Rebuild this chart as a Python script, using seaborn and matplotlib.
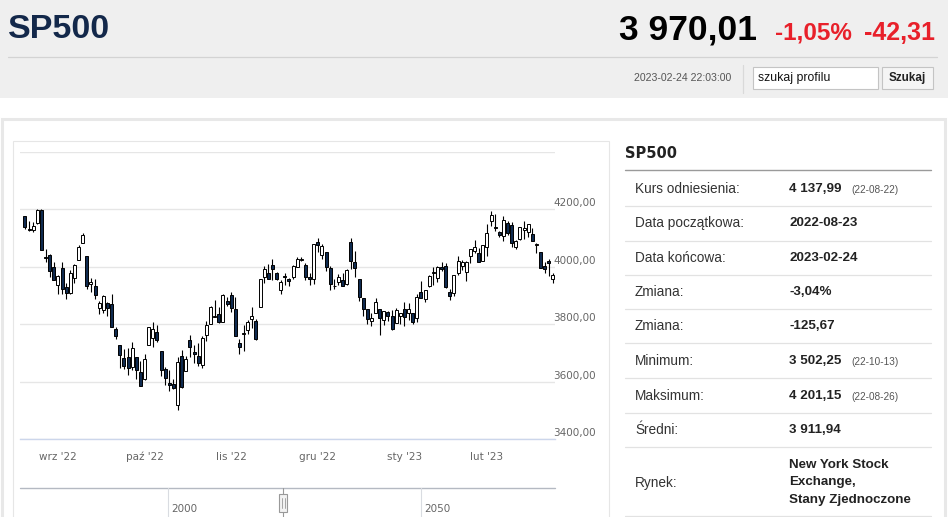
import matplotlib
matplotlib.use("Agg")
import matplotlib.pyplot as plt
import matplotlib.transforms as mtransforms
from matplotlib.patches import Rectangle
from matplotlib.lines import Line2D
import seaborn as sns
import numpy as np
import pandas as pd

# ---------------- data ----------------
dates = [
    "2022-08-22", "2022-08-23", "2022-08-24", "2022-08-25", "2022-08-26", "2022-08-29", "2022-08-30", "2022-08-31",
    "2022-09-01", "2022-09-02", "2022-09-06", "2022-09-07", "2022-09-08", "2022-09-09", "2022-09-12", "2022-09-13",
    "2022-09-14", "2022-09-15", "2022-09-16", "2022-09-19", "2022-09-20", "2022-09-21", "2022-09-22", "2022-09-23",
    "2022-09-26", "2022-09-27", "2022-09-28", "2022-09-29", "2022-09-30",
    "2022-10-03", "2022-10-04", "2022-10-05", "2022-10-06", "2022-10-07", "2022-10-10", "2022-10-11", "2022-10-12",
    "2022-10-13", "2022-10-14", "2022-10-17", "2022-10-18", "2022-10-19", "2022-10-20", "2022-10-21", "2022-10-24",
    "2022-10-25", "2022-10-26", "2022-10-27", "2022-10-28", "2022-10-31",
    "2022-11-01", "2022-11-02", "2022-11-03", "2022-11-04", "2022-11-07", "2022-11-08", "2022-11-09", "2022-11-10",
    "2022-11-11", "2022-11-14", "2022-11-15", "2022-11-16", "2022-11-17", "2022-11-18", "2022-11-21", "2022-11-22",
    "2022-11-23", "2022-11-25", "2022-11-28", "2022-11-29", "2022-11-30",
    "2022-12-01", "2022-12-02", "2022-12-05", "2022-12-06", "2022-12-07", "2022-12-08", "2022-12-09", "2022-12-12",
    "2022-12-13", "2022-12-14", "2022-12-15", "2022-12-16", "2022-12-19", "2022-12-20", "2022-12-21", "2022-12-22",
    "2022-12-23", "2022-12-27", "2022-12-28", "2022-12-29", "2022-12-30",
    "2023-01-03", "2023-01-04", "2023-01-05", "2023-01-06", "2023-01-09", "2023-01-10", "2023-01-11", "2023-01-12",
    "2023-01-13", "2023-01-17", "2023-01-18", "2023-01-19", "2023-01-20", "2023-01-23", "2023-01-24", "2023-01-25",
    "2023-01-26", "2023-01-27", "2023-01-30", "2023-01-31",
    "2023-02-01", "2023-02-02", "2023-02-03", "2023-02-06", "2023-02-07", "2023-02-08", "2023-02-09", "2023-02-10",
    "2023-02-13", "2023-02-14", "2023-02-15", "2023-02-16", "2023-02-17", "2023-02-21", "2023-02-22", "2023-02-23",
    "2023-02-24",
]

opens = [
    4176.0, 4133.1, 4126.6, 4153.3, 4198.7, 4034.6, 4041.3, 4000.7,
    3936.7, 3994.7, 3930.9, 3909.4, 3959.9, 4022.9, 4083.7, 4037.1,
    3940.7, 3932.4, 3856.0, 3849.9, 3875.2, 3871.4, 3782.4, 3727.1,
    3682.7, 3686.4, 3651.9, 3687.0, 3633.5,
    3609.8, 3726.5, 3753.3, 3772.0, 3706.7, 3644.8, 3595.9, 3590.8,
    3520.4, 3690.4, 3638.7, 3746.3, 3703.1, 3689.1, 3657.1, 3762.0,
    3799.4, 3826.0, 3834.7, 3808.3, 3881.9,
    3901.8, 3852.9, 3733.3, 3767.0, 3780.7, 3817.0, 3810.9, 3859.9,
    3963.7, 3978.0, 4006.4, 3976.8, 3919.3, 3966.4, 3956.2, 3965.5,
    4000.3, 4023.3, 4005.4, 3964.2, 3957.2,
    4087.1, 4040.2, 4052.0, 3996.6, 3933.3, 3947.8, 3954.2, 3939.3,
    4085.0, 4015.5, 3958.4, 3890.9, 3853.8, 3810.5, 3839.5, 3853.3,
    3815.1, 3843.3, 3829.6, 3805.5, 3829.1,
    3853.3, 3840.4, 3839.7, 3823.4, 3910.8, 3888.6, 3932.4, 3977.6,
    3960.6, 3999.3, 4002.3, 3911.8, 3909.0, 3978.1, 4001.7, 3982.7,
    4036.1, 4053.7, 4049.3, 4020.9,
    4070.1, 4158.7, 4136.7, 4119.6, 4105.4, 4153.5, 4144.3, 4068.9,
    4096.6, 4126.7, 4119.5, 4114.8, 4077.4, 4052.4, 4001.8, 4018.6,
    3957.3,
]

highs = [
    4178.0, 4159.8, 4156.6, 4200.5, 4201.2, 4063.0, 4045.0, 4015.4,
    3970.2, 4018.4, 3942.6, 3987.9, 4010.5, 4076.8, 4119.3, 4037.1,
    3961.9, 3959.1, 3881.0, 3900.5, 3876.0, 3907.1, 3790.7, 3727.1,
    3715.7, 3717.5, 3736.7, 3687.0, 3671.4,
    3698.4, 3791.9, 3806.9, 3797.9, 3706.7, 3652.2, 3640.7, 3608.3,
    3685.4, 3712.0, 3689.7, 3762.8, 3728.6, 3736.0, 3757.9, 3810.7,
    3862.9, 3886.2, 3860.0, 3905.4, 3893.7,
    3911.8, 3894.4, 3750.6, 3796.3, 3814.0, 3859.4, 3818.2, 3958.3,
    4001.5, 4009.0, 4028.8, 3983.1, 3954.3, 3979.9, 3962.0, 4005.9,
    4033.8, 4034.0, 4012.3, 3976.8, 4080.1,
    4100.5, 4080.5, 4052.5, 4001.5, 3957.6, 3974.2, 3977.0, 3990.7,
    4101.0, 4053.8, 3958.4, 3890.9, 3854.9, 3838.2, 3889.8, 3853.3,
    3845.8, 3846.7, 3848.3, 3858.2, 3839.9,
    3878.5, 3873.2, 3839.7, 3906.2, 3950.6, 3919.8, 3970.1, 3997.8,
    4004.0, 4015.4, 4014.2, 3922.9, 3973.0, 4039.3, 4023.9, 4019.6,
    4061.6, 4094.2, 4063.9, 4077.2,
    4149.0, 4195.4, 4182.4, 4124.6, 4176.5, 4160.8, 4156.2, 4094.4,
    4138.9, 4159.8, 4148.1, 4136.5, 4081.5, 4052.4, 4017.4, 4028.3,
    3978.3,
]

lows = [
    4129.9, 4124.0, 4120.0, 4147.6, 4057.7, 4017.4, 3965.2, 3954.5,
    3903.7, 3906.2, 3886.8, 3906.0, 3944.8, 4022.9, 4083.7, 3921.5,
    3912.4, 3888.3, 3837.1, 3838.5, 3827.5, 3789.5, 3749.5, 3647.5,
    3644.8, 3623.3, 3640.6, 3610.4, 3584.1,
    3604.9, 3726.5, 3722.7, 3739.2, 3620.7, 3588.1, 3568.5, 3573.9,
    3502.3, 3579.7, 3638.7, 3686.5, 3666.5, 3656.4, 3647.4, 3741.7,
    3799.4, 3824.1, 3803.8, 3808.3, 3863.2,
    3843.8, 3758.7, 3698.2, 3708.8, 3764.7, 3786.3, 3744.2, 3859.9,
    3944.8, 3956.4, 3953.2, 3954.3, 3906.5, 3936.0, 3933.3, 3956.9,
    3998.7, 4020.8, 3955.8, 3937.7, 3938.6,
    4050.9, 4026.6, 3984.5, 3918.4, 3922.7, 3935.8, 3933.0, 3935.3,
    3993.0, 3965.7, 3879.5, 3827.9, 3800.0, 3795.6, 3839.5, 3764.5,
    3797.0, 3813.2, 3780.8, 3805.5, 3800.3,
    3794.3, 3815.8, 3802.4, 3809.6, 3890.4, 3877.3, 3928.5, 3937.6,
    3947.7, 3984.6, 3926.6, 3885.5, 3897.9, 3971.6, 3989.8, 3949.1,
    4013.3, 4048.7, 4015.6, 4020.4,
    4037.2, 4141.9, 4123.4, 4104.0, 4088.4, 4111.8, 4069.7, 4060.8,
    4092.7, 4095.0, 4104.0, 4089.9, 4048.0, 3995.2, 3976.9, 3969.2,
    3943.1,
]

closes = [
    4138.0, 4128.7, 4140.8, 4199.1, 4057.7, 4030.6, 3986.2, 3955.0,
    3966.9, 3924.3, 3908.2, 3979.9, 4006.2, 4067.4, 4110.4, 3932.7,
    3946.0, 3901.4, 3873.3, 3899.9, 3855.9, 3789.9, 3758.0, 3693.2,
    3655.0, 3647.3, 3719.0, 3640.5, 3585.6,
    3678.4, 3790.9, 3783.3, 3744.5, 3639.7, 3612.4, 3588.8, 3577.0,
    3669.9, 3583.1, 3678.0, 3720.0, 3695.2, 3665.8, 3752.8, 3797.3,
    3859.1, 3830.6, 3807.3, 3901.1, 3872.0,
    3856.1, 3759.7, 3719.9, 3770.6, 3806.8, 3828.1, 3748.6, 3956.4,
    3992.9, 3957.3, 3991.7, 3958.8, 3946.6, 3965.3, 3949.9, 4003.6,
    4027.3, 4026.1, 3963.9, 3957.6, 4080.1,
    4076.6, 4071.7, 3998.8, 3941.3, 3933.9, 3963.5, 3934.4, 3990.6,
    4019.7, 3995.3, 3895.8, 3852.4, 3817.7, 3821.6, 3878.4, 3822.4,
    3844.8, 3829.3, 3783.2, 3849.3, 3839.5,
    3824.1, 3853.0, 3808.1, 3895.1, 3892.1, 3919.3, 3969.6, 3983.2,
    3999.1, 3991.0, 3928.9, 3898.9, 3972.6, 4019.8, 4017.0, 4016.2,
    4060.4, 4070.6, 4017.8, 4076.6,
    4119.2, 4179.8, 4136.5, 4111.1, 4164.0, 4117.9, 4081.5, 4090.5,
    4137.3, 4136.1, 4147.6, 4090.4, 4079.1, 3997.3, 3991.1, 4012.3,
    3970.0,
]

month_tick_dates = ["2022-09-01", "2022-10-03", "2022-11-01", "2022-12-01", "2023-01-03", "2023-02-01"]
month_tick_labels = ["wrz '22", "paź '22", "lis '22", "gru '22", "sty '23", "lut '23"]
grid_levels = [3400, 3600, 3800, 4000, 4200, 4400]
price_labels = ["3400,00", "3600,00", "3800,00", "4000,00", "4200,00"]
nav_labels = ["2000", "2050"]

title = "SP500"
last_price = "3 970,01"
change_pct = "-1,05%"
change_abs = "-42,31"
timestamp = "2023-02-24 22:03:00"
search_hint = "szukaj profilu"
search_button = "Szukaj"

table_labels = ["Kurs odniesienia:", "Data początkowa:", "Data końcowa:", "Zmiana:", "Zmiana:",
                "Minimum:", "Maksimum:", "Średni:", "Rynek:"]
table_values = ["4 137,99", "2022-08-23", "2023-02-24", "-3,04%", "-125,67",
                "3 502,25", "4 201,15", "3 911,94", ["New York Stock", "Exchange,", "Stany Zjednoczone"]]
table_notes = ["(22-08-22)", "", "", "", "", "(22-10-13)", "(22-08-26)", "", ""]

# ---------------- layout ----------------
W, H = 948, 517
def fx(x):
    return x / W
def fy(y):
    return 1 - y / H

sns.set_theme(style="white")
plt.rcParams["font.family"] = ["DejaVu Sans"]
HEAD = ["Liberation Sans", "DejaVu Sans"]
ARIAL = ["Liberation Sans", "DejaVu Sans"]

fig = plt.figure(figsize=(W / 100, H / 100), dpi=100)
fig.patch.set_facecolor("white")

def frect(x0, y0, x1, y1, **kw):
    r = Rectangle((fx(x0), fy(y1)), fx(x1) - fx(x0), fy(y0) - fy(y1), transform=fig.transFigure, **kw)
    fig.add_artist(r)
    return r

def fline(xs, ys, **kw):
    fig.add_artist(Line2D([fx(v) for v in xs], [fy(v) for v in ys], transform=fig.transFigure, **kw))

# header band
frect(0, 0, W, 98, fc="#efefef", ec="none", zorder=-5)
fline([8, 937], [57, 57], color="#d3d3d3", lw=0.9, zorder=-4)
fline([743, 743], [65, 93], color="#d9d9d9", lw=0.9, zorder=-4)
frect(753, 67, 878, 89, fc="white", ec="#c4c4c4", lw=0.8, zorder=-4)
frect(882, 67, 933, 89, fc="#f5f5f5", ec="#c4c4c4", lw=0.8, zorder=-4)

fig.text(fx(8), fy(29), title, family=HEAD, weight="bold", fontsize=24.5, color="#13284a", va="center", ha="left")
fig.text(fx(757), fy(30), last_price, family=HEAD, weight="bold", fontsize=25.5, color="#000000", va="center", ha="right")
fig.text(fx(775), fy(33), change_pct, family=HEAD, weight="bold", fontsize=17.5, color="#e8202a", va="center", ha="left")
fig.text(fx(935), fy(33), change_abs, family=HEAD, weight="bold", fontsize=18, color="#e8202a", va="center", ha="right")
fig.text(fx(731), fy(78), timestamp, family=HEAD, fontsize=7.6, color="#555555", va="center", ha="right")
fig.text(fx(758), fy(78), search_hint, family=HEAD, fontsize=8.8, color="#111111", va="center", ha="left")
fig.text(fx(907.5), fy(78), search_button, family=HEAD, weight="bold", fontsize=8.4, color="#222222", va="center", ha="center")

# outer panel + chart box
frect(1.5, 118.5, 944.5, 540, fc="white", ec="#e8e8e8", lw=2.2, zorder=-3)
frect(13, 141, 609, 540, fc="none", ec="#e6e6e6", lw=0.8, zorder=-2)

# ---------------- candlestick chart ----------------
df = pd.DataFrame({"date": pd.to_datetime(dates), "open": opens, "high": highs, "low": lows, "close": closes})
df["idx"] = np.arange(len(df))
df["up"] = df["close"] >= df["open"]
df["bottom"] = df[["open", "close"]].min(axis=1)
df["height"] = (df["close"] - df["open"]).abs().clip(lower=1.5)

ax = fig.add_axes([fx(20), fy(439.3), (555 - 20) / W, (439.3 - 151.8) / H])
ax.patch.set_alpha(0)
ax.set_ylim(3400, 4400)
ax.set_xlim(-1.2, 128.5)

ax.vlines(df["idx"], df["low"], df["high"], color="#000000", lw=0.8, zorder=2)
colors = np.where(df["up"], "#ffffff", "#0f2a4f")
ax.bar(df["idx"], df["height"], bottom=df["bottom"], width=0.72, color=colors,
       edgecolor="#000000", linewidth=0.7, zorder=3)

ax.set_yticks(grid_levels)
ax.set_yticklabels([])
ax.tick_params(axis="y", length=0)
ax.yaxis.grid(True, color="#e6e6e6", lw=1.0)
ax.xaxis.grid(False)
for s in ["left", "right", "top"]:
    ax.spines[s].set_visible(False)
ax.spines["bottom"].set_color("#ccd6eb")
ax.spines["bottom"].set_linewidth(1.0)

tick_idx = [int(df.index[df["date"] == pd.Timestamp(d)][0]) for d in month_tick_dates]
ax.set_xticks(tick_idx)
ax.set_xticklabels(month_tick_labels)
ax.tick_params(axis="x", length=6, width=0.8, color="#ccd6eb", labelcolor="#666666", labelsize=7.5, pad=3)

lab_trans = mtransforms.blended_transform_factory(ax.transAxes, ax.transData) + \
    mtransforms.ScaledTranslation(0, 6 / 100, fig.dpi_scale_trans)
for lv, lt in zip(grid_levels[:-1], price_labels):
    ax.text((553 - 20) / 535, lv, lt, transform=lab_trans, ha="left", va="center",
            fontsize=7.5, color="#666666", zorder=5)

# ---------------- navigator ----------------
fline([20, 555], [488, 488], color="#b4b9c2", lw=1.0, zorder=-1)
for gx, lab in zip([168, 421], nav_labels):
    fline([gx, gx], [488, 520], color="#d9dce1", lw=0.8, zorder=-1)
    fig.text(fx(gx + 3), fy(509), lab, fontsize=7.5, color="#666666", va="center", ha="left")
fline([283, 283], [488, 520], color="#999999", lw=0.8, zorder=-1)
frect(279, 494, 287, 512, fc="#f2f2f2", ec="#999999", lw=0.8, zorder=0)
fline([282, 282], [498, 508], color="#999999", lw=0.6, zorder=1)
fline([284.5, 284.5], [498, 508], color="#999999", lw=0.6, zorder=1)

# ---------------- info table ----------------
fig.text(fx(625), fy(154), title, family=["DejaVu Sans"], weight="bold", fontsize=10.5, color="#222222",
         va="center", ha="left")
fline([625, 931], [170, 170], color="#9a9a9a", lw=1.0, zorder=-1)
row_centers = [189, 223, 258, 292, 326, 361, 396, 430, 483]
row_seps = [206, 240.5, 274.5, 308.5, 343, 377.5, 412.5, 447, 516]
for ys in row_seps:
    fline([625, 931], [ys, ys], color="#e2e2e2", lw=0.9, zorder=-1)
for yc, lab, val, note in zip(row_centers, table_labels, table_values, table_notes):
    fig.text(fx(635), fy(yc), lab, family=ARIAL, fontsize=9.8, color="#333333", va="center", ha="left")
    if isinstance(val, list):
        for k, line in enumerate(val):
            fig.text(fx(789), fy(465 + 17.5 * k), line, family=ARIAL, weight="bold", fontsize=9.6,
                     color="#222222", va="center", ha="left")
    else:
        fig.text(fx(789), fy(yc), val, family=ARIAL, weight="bold", fontsize=9.6, color="#222222",
                 va="center", ha="left")
    if note:
        fig.text(fx(851), fy(yc + 1), note, family=ARIAL, fontsize=7.2, color="#555555", va="center", ha="left")

fig.savefig("out.png", dpi=100)
